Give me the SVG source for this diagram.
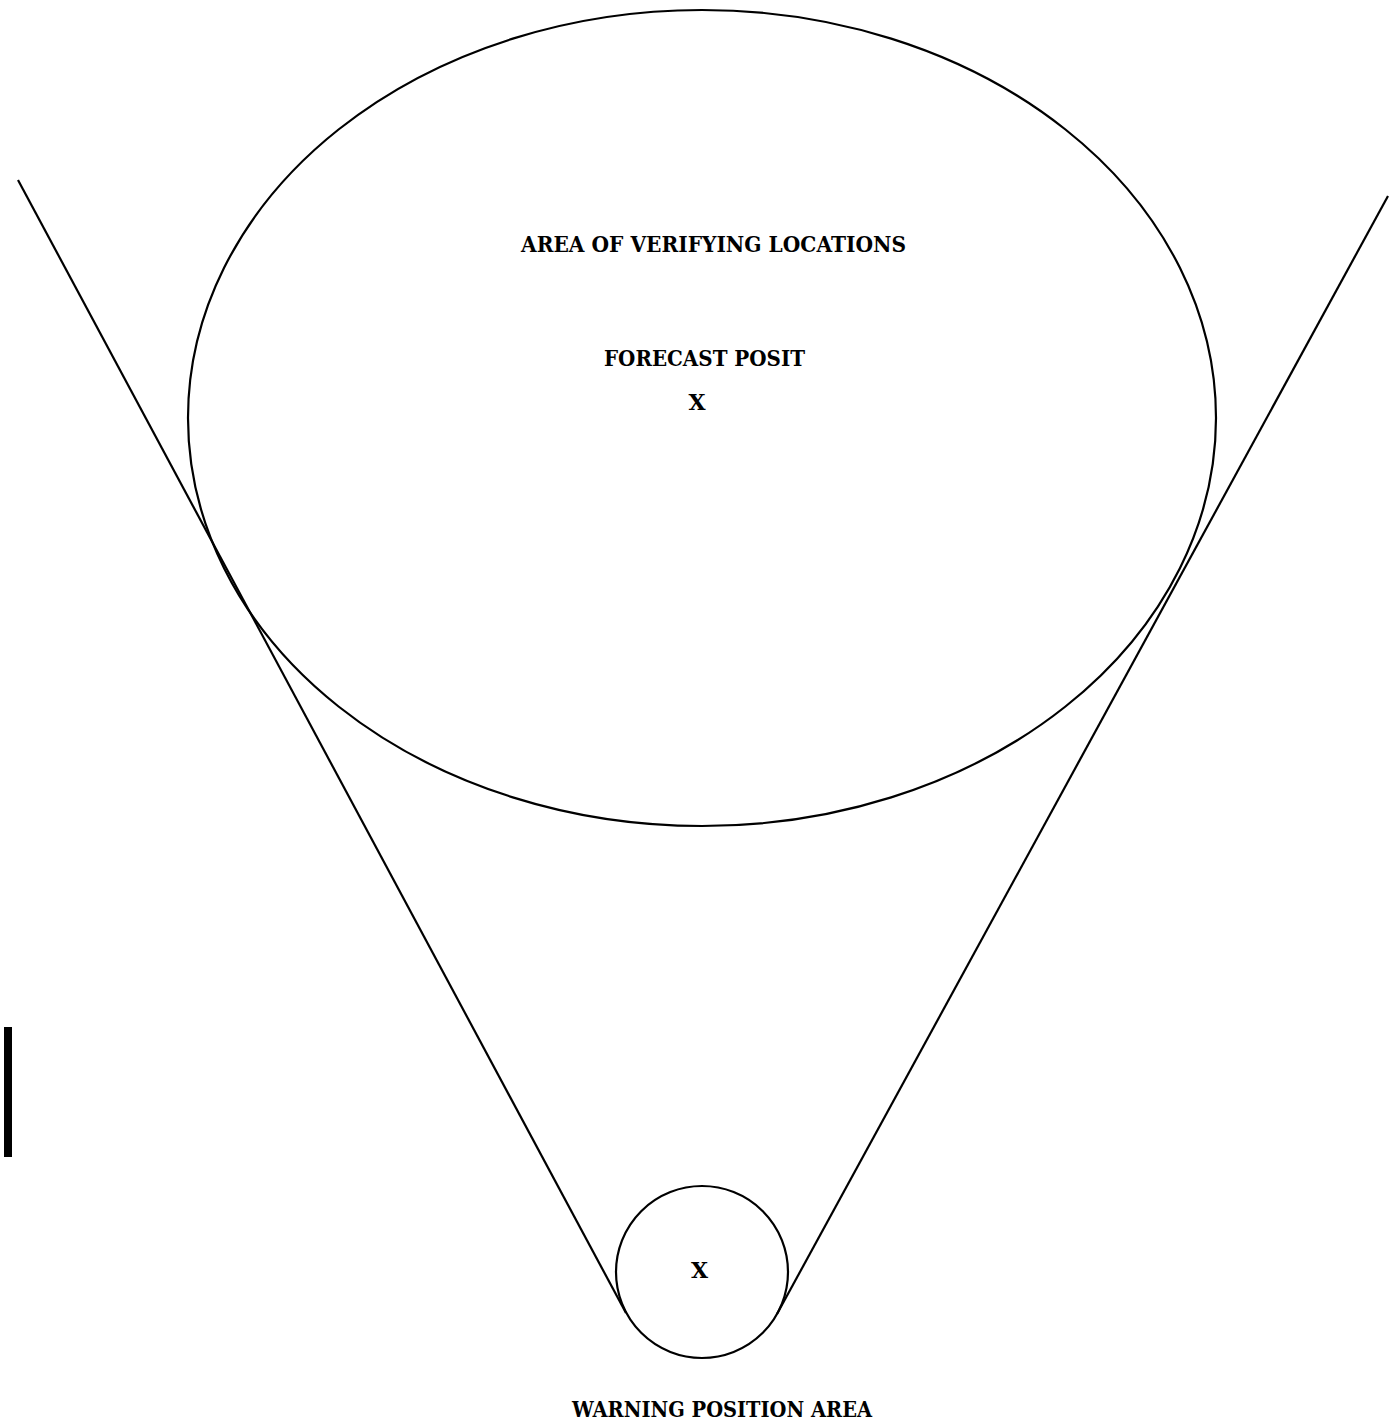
<svg xmlns="http://www.w3.org/2000/svg" width="1400" height="1423" viewBox="0 0 1400 1423">
<style>
.s{fill:none;stroke:#000;stroke-width:2.2}
.t{font-family:"DejaVu Serif","Liberation Serif",serif;font-weight:bold;font-size:22px;fill:#000}
</style>
<rect width="1400" height="1423" fill="#fff"/>
<g id="verifying-area"><ellipse class="s" cx="702" cy="418" rx="514" ry="408"/></g>
<g id="warning-area"><circle class="s" cx="702" cy="1272" r="86"/></g>
<g id="connectors">
<line class="s" x1="18" y1="180" x2="626" y2="1313"/>
<line class="s" x1="1388" y1="196" x2="777" y2="1314"/>
</g>
<rect x="4" y="1027" width="8" height="130" fill="#000"/>
<g id="labels">
<text class="t" x="521" y="252" textLength="385" lengthAdjust="spacingAndGlyphs">AREA OF VERIFYING LOCATIONS</text>
<text class="t" x="604" y="366" textLength="201" lengthAdjust="spacingAndGlyphs">FORECAST POSIT</text>
<text class="t" x="697" y="410" text-anchor="middle">X</text>
<text class="t" x="699.5" y="1278" text-anchor="middle">X</text>
<text class="t" x="572" y="1417" textLength="300" lengthAdjust="spacingAndGlyphs">WARNING POSITION AREA</text>
</g>
</svg>
